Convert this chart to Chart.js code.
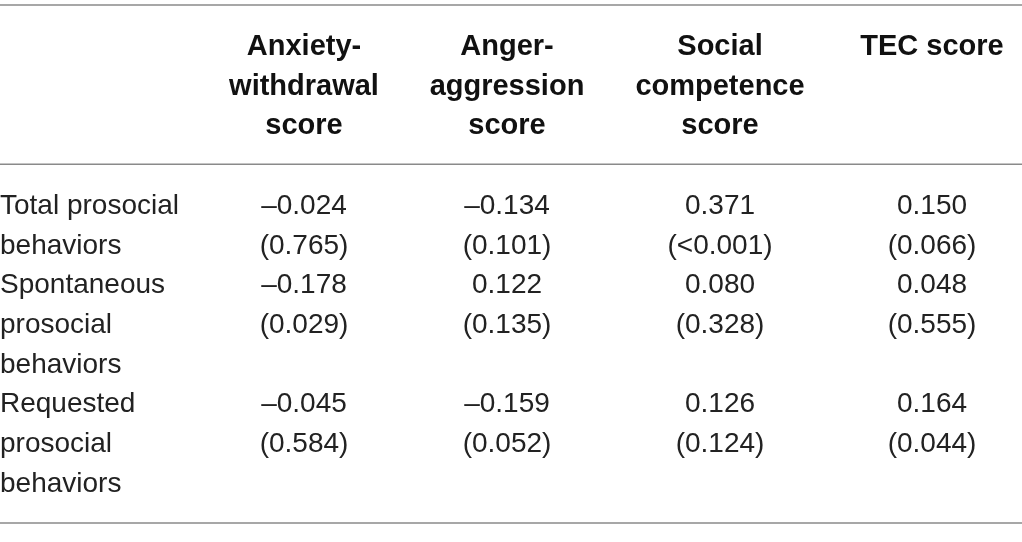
<!DOCTYPE html>
<html>
<head>
<meta charset="utf-8">
<script src="https://cdn.jsdelivr.net/npm/chart.js@4/dist/chart.umd.min.js"></script>
<style>
  html, body { margin: 0; padding: 0; background: #fff; }
  #wrap { width: 1022px; height: 542px; }
</style>
</head>
<body>
<div id="wrap"><canvas id="table" width="1022" height="542"></canvas></div>
<script>
// table content
const colHeaders = [
  ['Anxiety-', 'withdrawal', 'score'],
  ['Anger-', 'aggression', 'score'],
  ['Social', 'competence', 'score'],
  ['TEC score']
];
const rowLabels = [
  ['Total prosocial', 'behaviors'],
  ['Spontaneous', 'prosocial', 'behaviors'],
  ['Requested', 'prosocial', 'behaviors']
];
const coefficients = [
  [-0.024, -0.134, 0.371, 0.150],
  [-0.178, 0.122, 0.080, 0.048],
  [-0.045, -0.159, 0.126, 0.164]
];
const pValues = [
  ['0.765', '0.101', '<0.001', '0.066'],
  ['0.029', '0.135', '0.328', '0.555'],
  ['0.584', '0.052', '0.124', '0.044']
];

// layout (x in px, y in text-line units)
const colX = [0, 304, 507, 720, 932];
const lineH = 39.7;
const firstBaseline = 55;
const bodyStartLine = 4;
const ruleLines = [-1.26, 2.75, 11.79];
const FONT = '"Liberation Sans", Arial, sans-serif';

function fmt(v) {
  const s = Math.abs(v).toFixed(3);
  return v < 0 ? '\u2013' + s : s;
}

// build one point per text line of each cell
const cells = [];
colHeaders.forEach((lines, c) => {
  lines.forEach((t, i) => cells.push({x: colX[c + 1], y: i, text: t, bold: true, align: 'center'}));
});
let line = bodyStartLine;
rowLabels.forEach((lines, r) => {
  lines.forEach((t, i) => cells.push({x: colX[0], y: line + i, text: t, bold: false, align: 'left'}));
  coefficients[r].forEach((v, c) => {
    cells.push({x: colX[c + 1], y: line, text: fmt(v), bold: false, align: 'center'});
    cells.push({x: colX[c + 1], y: line + 1, text: '(' + pValues[r][c] + ')', bold: false, align: 'center'});
  });
  line += lines.length;
});

const rules = ruleLines.map(r => ({
  type: 'line',
  data: [{x: 0, y: r}, {x: 1022, y: r}],
  borderColor: '#8a8a8a',
  borderWidth: 1.6,
  pointRadius: 0
}));

const cellText = {
  id: 'cellText',
  afterDatasetsDraw(chart) {
    const ctx = chart.ctx;
    const meta = chart.getDatasetMeta(0);
    ctx.save();
    ctx.textBaseline = 'alphabetic';
    meta.data.forEach((el, i) => {
      const d = chart.data.datasets[0].data[i];
      ctx.font = d.bold ? 'bold 29px ' + FONT : '28px ' + FONT;
      ctx.fillStyle = d.bold ? '#111' : '#222';
      ctx.textAlign = d.align;
      ctx.fillText(d.text, el.x, el.y);
    });
    ctx.restore();
  }
};

const span = 542 / lineH;
const yMin = -firstBaseline / lineH;

new Chart(document.getElementById('table'), {
  type: 'scatter',
  data: {
    datasets: [
      {data: cells, pointRadius: 0, pointHoverRadius: 0},
      ...rules
    ]
  },
  options: {
    responsive: false,
    animation: false,
    events: [],
    layout: {padding: 0},
    plugins: {legend: {display: false}, tooltip: {enabled: false}},
    scales: {
      x: {type: 'linear', display: false, min: 0, max: 1022},
      y: {type: 'linear', display: false, reverse: true, min: yMin, max: yMin + span}
    }
  },
  plugins: [cellText]
});
</script>
</body>
</html>
